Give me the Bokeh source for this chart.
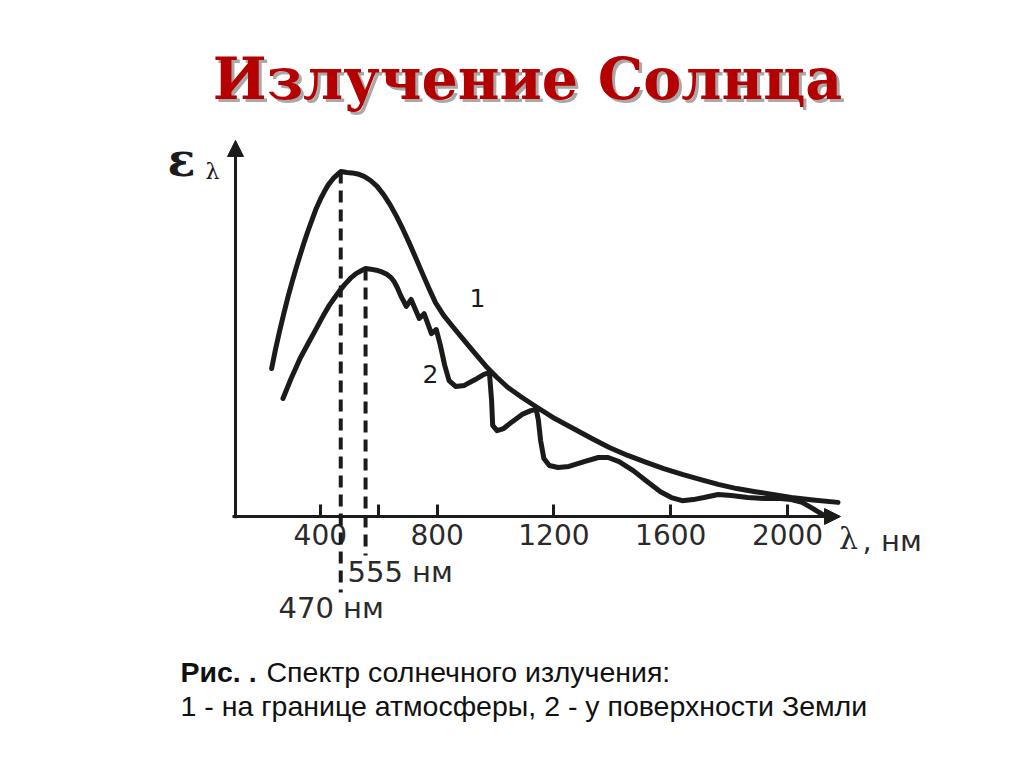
from bokeh.plotting import figure
from bokeh.models import Range1d, FixedTicker, Label, Arrow, NormalHead
from bokeh.embed import file_html
from bokeh.resources import INLINE

# ---- data (wavelength in nm, spectral emittance in arbitrary units) ----
# curve 1: at the top of the atmosphere
curve1_nm = [233.3, 247.2, 261.1, 275.0, 288.9, 302.8, 316.7, 330.6, 344.4, 358.3, 372.2, 386.1, 400.0,
             413.9, 427.8, 444.4, 461.1, 470.0, 491.7, 508.3, 527.8, 550.0, 572.2, 594.4, 616.7, 638.9,
             661.1, 683.3, 705.6, 727.8, 750.0, 772.2, 794.4, 822.4, 856.0, 893.3, 930.6, 967.9, 1005.2,
             1042.5, 1091.0, 1143.3, 1203.0, 1266.4, 1329.9, 1389.6, 1453.0, 1516.4, 1576.1, 1639.6,
             1703.0, 1762.7, 1826.1, 1889.6, 1949.3, 2012.7, 2087.3, 2173.1]
curve1_e = [42.9, 48.7, 53.9, 58.8, 63.5, 67.8, 71.9, 75.7, 79.4, 82.9, 86.1, 89.3, 91.9,
            94.2, 96.2, 98.0, 99.3, 100.0, 99.7, 99.6, 99.3, 98.6, 97.4, 95.7, 93.3, 90.4,
            87.0, 83.2, 79.1, 74.8, 70.4, 66.1, 62.0, 58.3, 54.8, 51.0, 47.2, 43.5, 40.3,
            37.4, 34.5, 31.6, 28.4, 25.5, 22.6, 20.0, 17.7, 15.7, 13.9, 12.2,
            10.7, 9.3, 8.1, 7.2, 6.4, 5.5, 4.8, 4.1]

# curve 2: at the Earth's surface
curve2_nm = [272.2, 286.1, 300.0, 313.9, 330.6, 347.2, 363.9, 380.6, 397.2, 413.9, 430.6, 447.2, 463.9,
             483.3, 502.8, 522.2, 541.7, 555.0, 572.2, 591.7, 611.1, 627.8, 641.7, 652.8, 663.9, 675.0,
             694.4, 711.1, 738.9, 755.6, 780.6, 797.2, 811.2, 826.1, 841.0, 863.4, 893.3, 930.6, 960.4,
             979.1, 986.6, 990.3, 1005.2, 1027.6, 1057.5, 1091.0, 1120.9, 1139.6, 1147.0, 1154.5, 1165.7,
             1184.3, 1214.2, 1251.5, 1303.7, 1352.2, 1385.8, 1423.1, 1471.6, 1520.1, 1564.9, 1602.2,
             1639.6, 1676.9, 1714.2, 1762.7, 1807.5, 1863.4, 1919.4, 1975.4, 2012.7, 2050.0, 2087.3, 2124.6]
curve2_e = [34.2, 37.1, 40.0, 42.6, 45.8, 48.4, 51.0, 53.6, 56.2, 58.8, 61.2, 63.2, 65.2,
            67.2, 69.0, 70.4, 71.3, 71.9, 71.7, 71.4, 70.9, 70.2, 69.3, 68.1, 66.3, 64.1,
            60.9, 62.9, 57.4, 58.8, 53.0, 54.2, 49.6, 43.8, 39.4, 37.7, 38.0, 39.7, 41.2,
            41.7, 33.6, 26.4, 24.9, 25.5, 27.5, 29.6, 30.7, 31.0, 27.8, 22.0, 16.8,
            14.8, 14.2, 14.5, 15.9, 17.1, 17.1, 15.9, 13.3, 10.1, 7.2, 5.5,
            4.6, 4.9, 5.5, 6.4, 6.1, 5.5, 5.2, 5.2, 4.9, 4.1, 2.3, 0.3]

peak_nm = [470, 555]
peak_e = [100.0, 71.9]
peak_labels = ["470 нм", "555 нм"]

tick_values = [400, 600, 800, 1200, 1600, 2000]
tick_labels = {400: "400", 600: "", 800: "800", 1200: "1200", 1600: "1600", 2000: "2000"}

title_text = "Излучение Солнца"
caption_bold = "Рис. ."
caption_line1 = "Спектр солнечного излучения:"
caption_line2 = "1 - на границе атмосферы, 2 - у поверхности Земли"

INK = "#1b1b1b"
GREY = "#2a2a2a"

p = figure(width=1020, height=764, output_backend="svg", toolbar_location=None,
           x_range=Range1d(-695.2, 2797.9), y_range=Range1d(-71.88, 149.57),
           min_border=0, title=None)
p.outline_line_color = None
p.grid.visible = False
p.yaxis.visible = False
p.background_fill_color = "white"
p.border_fill_color = "white"

ax = p.xaxis[0]
ax.fixed_location = 0
ax.ticker = FixedTicker(ticks=tick_values)
ax.major_label_overrides = tick_labels
ax.axis_line_color = None
ax.major_tick_in = 12
ax.major_tick_out = 0
ax.major_tick_line_width = 3
ax.major_tick_line_color = INK
ax.minor_tick_line_color = None
ax.major_label_text_font = "DejaVu Sans"
ax.major_label_text_font_size = "28px"
ax.major_label_text_color = GREY
ax.major_label_standoff = 7

# curves
p.line(curve1_nm, curve1_e, line_width=5, line_color=INK, line_join="round", line_cap="round")
p.line(curve2_nm, curve2_e, line_width=5, line_color=INK, line_join="round", line_cap="round")

# axes drawn as arrows
p.add_layout(Arrow(x_start=99.3, y_start=0, x_end=2181.5, y_end=0, line_width=3, line_color=INK,
                   end=NormalHead(size=16, fill_color=INK, line_color=INK)))
p.add_layout(Arrow(x_start=109.6, y_start=-0.5, x_end=109.6, y_end=109.0, line_width=3, line_color=INK,
                   end=NormalHead(size=16, fill_color=INK, line_color=INK)))

# dashed lines from the maxima
p.add_layout(Arrow(x_start=peak_nm[0], y_start=peak_e[0], x_end=peak_nm[0], y_end=-22.0, end=None,
                   line_width=4, line_color=INK, line_dash="12 7"))
p.add_layout(Arrow(x_start=peak_nm[1], y_start=peak_e[1], x_end=peak_nm[1], y_end=-11.3, end=None,
                   line_width=4, line_color=INK, line_dash="12 7"))


def lab(x, y, text, size, font="DejaVu Sans", style="normal", color=INK, align="left"):
    p.add_layout(Label(x=x, y=y, text=text, text_font=font, text_font_size=size,
                       text_font_style=style, text_color=color, text_align=align,
                       text_baseline="middle"))


lab(493.2, -16.2, peak_labels[1], "29px", color=GREY)
lab(256.8, -26.4, peak_labels[0], "29px", color=GREY)

# axis names
lab(-75.3, 103.2, "ε", "46px", font="DejaVu Serif", style="bold", align="center")
lab(30.8, 100.0, "λ", "22px", font="DejaVu Serif", align="center")
lab(2208.9, -6.4, "λ", "30px", font="DejaVu Serif", align="center", color=GREY)
lab(2256.8, -7.2, ", нм", "29px", font="DejaVu Sans", color=GREY)

# curve numbers
lab(938.4, 63.2, "1", "25px", align="center")
lab(777.4, 41.4, "2", "25px", align="center")

# title with shadow
lab(1119.9, 126.0, title_text, "57px", font="DejaVu Serif", style="bold", color="#a8a8a8", align="center")
lab(1109.6, 126.9, title_text, "57px", font="DejaVu Serif", style="bold", color="#b40000", align="center")

# caption
lab(-78.8, -45.2, caption_bold, "28.5px", font="Liberation Sans", style="bold", color="#111111")
lab(215.8, -45.2, caption_line1, "28.5px", font="Liberation Sans", color="#111111")
lab(-78.8, -54.8, caption_line2, "28.5px", font="Liberation Sans", color="#111111")

open("out.html", "w").write(file_html(p, INLINE))
